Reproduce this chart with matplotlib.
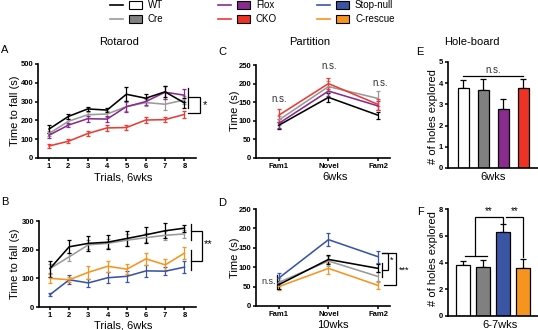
import matplotlib
matplotlib.use("Agg")
import matplotlib.pyplot as plt
from matplotlib.lines import Line2D
from matplotlib.patches import Rectangle

plt.rcParams['font.family'] = ['Liberation Sans', 'DejaVu Sans']

W, H = 538, 330

# ---------------- data ----------------
trials = [1, 2, 3, 4, 5, 6, 7, 8]

A_wt = [154, 221, 261, 255, 339, 318, 352, 293]
A_wt_err = [20, 12, 10, 10, 38, 22, 30, 25]
A_cre = [130, 195, 230, 234, 273, 295, 286, 309]
A_cre_err = [12, 12, 15, 15, 25, 20, 30, 20]
A_flox = [121, 175, 209, 207, 273, 300, 350, 334]
A_flox_err = [12, 12, 15, 15, 30, 20, 35, 35]
A_cko = [64, 89, 130, 160, 162, 202, 204, 232]
A_cko_err = [10, 10, 15, 15, 15, 15, 15, 20]

B_wt = [134, 210, 222, 226, 239, 252, 266, 275]
B_wt_err = [28, 22, 25, 25, 27, 27, 27, 12]
B_cre = [134, 175, 217, 222, 233, 242, 250, 255]
B_cre_err = [15, 15, 15, 15, 20, 15, 15, 15]
B_resc = [100, 95, 121, 142, 132, 168, 147, 188]
B_resc_err = [15, 8, 22, 20, 18, 20, 20, 22]
B_null = [43, 95, 84, 102, 107, 126, 125, 139]
B_null_err = [5, 15, 15, 20, 20, 20, 15, 20]

phases = ['Fam1', 'Novel', 'Fam2']
C_wt = [88, 163, 115]
C_wt_err = [10, 12, 10]
C_cre = [102, 192, 160]
C_cre_err = [12, 15, 20]
C_flox = [93, 180, 140]
C_flox_err = [12, 12, 12]
C_cko = [115, 200, 144]
C_cko_err = [18, 15, 15]

D_wt = [55, 120, 97]
D_wt_err = [10, 12, 10]
D_cre = [61, 116, 76]
D_cre_err = [10, 12, 12]
D_null = [72, 171, 127]
D_null_err = [13, 17, 15]
D_resc = [50, 97, 53]
D_resc_err = [8, 14, 10]

E_groups = ['WT', 'Cre', 'Flox', 'CKO']
E_vals = [3.78, 3.68, 2.8, 3.78]
E_err = [0.35, 0.5, 0.45, 0.42]

F_groups = ['WT', 'Cre', 'Stop-null', 'C-rescue']
F_vals = [3.85, 3.7, 6.27, 3.57]
F_err = [0.28, 0.5, 0.6, 0.7]

# ---------------- styles ----------------
LINE = {'WT': 'black', 'Cre': '#9a9a9a', 'Flox': '#8b2b8f', 'CKO': '#ee3b33',
        'Stop-null': '#3a55a4', 'C-rescue': '#f7941d'}
FILL = {'WT': 'white', 'Cre': '#808080', 'Flox': '#8b2b8f', 'CKO': '#ee3224',
        'Stop-null': '#3a55a4', 'C-rescue': '#f7941d'}

fig = plt.figure(figsize=(W / 100, H / 100), dpi=100)


def fx(px):
    return px / W


def fy(py):
    return 1 - py / H


def add_axes_px(left, top, right, bottom):
    return fig.add_axes([fx(left), fy(bottom), (right - left) / W, (bottom - top) / H])


def style(ax):
    for s in ['top', 'right']:
        ax.spines[s].set_visible(False)
    for s in ['left', 'bottom']:
        ax.spines[s].set_linewidth(1.2)
    ax.tick_params(axis='both', length=2.2, width=1.1, pad=1.2, labelsize=5.5)
    for lab in ax.get_xticklabels() + ax.get_yticklabels():
        lab.set_fontweight('bold')


def line_err(ax, x, y, e, key):
    ax.errorbar(x, y, yerr=e, color=LINE[key], lw=1.15, elinewidth=0.9,
                capsize=1.6, capthick=0.9, zorder=3)


def bracket(ax, pts, **kw):
    xs = [p[0] for p in pts]
    ys = [p[1] for p in pts]
    ax.plot(xs, ys, color='black', lw=0.9, clip_on=False, solid_joinstyle='miter', **kw)


# ---------------- Panel A ----------------
axA = add_axes_px(38, 64, 196, 158)
for y, e, k in [(A_cko, A_cko_err, 'CKO'), (A_cre, A_cre_err, 'Cre'),
                (A_flox, A_flox_err, 'Flox'), (A_wt, A_wt_err, 'WT')]:
    line_err(axA, trials, y, e, k)
axA.set_xlim(0.43, 8.6)
axA.set_ylim(0, 500)
axA.set_xticks(trials)
axA.set_yticks([0, 100, 200, 300, 400, 500])
style(axA)
bracket(axA, [(8.2, 372), (8.2, 266)])
bracket(axA, [(8.2, 324), (8.82, 324), (8.82, 239), (8.2, 239)])
axA.text(9.05, 282, '*', fontsize=8, ha='center', va='center', clip_on=False)

# ---------------- Panel B ----------------
axB = add_axes_px(39, 221, 196, 307)
for y, e, k in [(B_null, B_null_err, 'Stop-null'), (B_resc, B_resc_err, 'C-rescue'),
                (B_cre, B_cre_err, 'Cre'), (B_wt, B_wt_err, 'WT')]:
    line_err(axB, trials, y, e, k)
axB.set_xlim(0.43, 8.6)
axB.set_ylim(0, 300)
axB.set_xticks(trials)
axB.set_yticks([0, 100, 200, 300])
style(axB)
bracket(axB, [(8.36, 290), (8.36, 234)])
bracket(axB, [(8.36, 199), (8.36, 129)])
bracket(axB, [(8.36, 265), (8.93, 265), (8.93, 160), (8.36, 160)])
axB.text(9.25, 218, '**', fontsize=8, ha='center', va='center', clip_on=False)

# ---------------- Panel C ----------------
xp = [0, 1, 2]
axC = add_axes_px(256, 65, 390, 158)
for y, e, k in [(C_wt, C_wt_err, 'WT'), (C_flox, C_flox_err, 'Flox'),
                (C_cre, C_cre_err, 'Cre'), (C_cko, C_cko_err, 'CKO')]:
    line_err(axC, xp, y, e, k)
axC.set_xlim(-0.46, 2.24)
axC.set_ylim(0, 250)
axC.set_xticks(xp)
axC.set_xticklabels(phases)
axC.set_yticks([0, 50, 100, 150, 200, 250])
style(axC)
axC.text(0, 159, 'n.s.', fontsize=7, ha='center', va='center', color='#333333')
axC.text(1.02, 246, 'n.s.', fontsize=7, ha='center', va='center', color='#333333', clip_on=False)
axC.text(2.05, 202, 'n.s.', fontsize=7, ha='center', va='center', color='#333333', clip_on=False)

# ---------------- Panel D ----------------
axD = add_axes_px(256, 209, 390, 306)
for y, e, k in [(D_resc, D_resc_err, 'C-rescue'), (D_cre, D_cre_err, 'Cre'),
                (D_wt, D_wt_err, 'WT'), (D_null, D_null_err, 'Stop-null')]:
    line_err(axD, xp, y, e, k)
axD.set_xlim(-0.46, 2.24)
axD.set_ylim(0, 250)
axD.set_xticks(xp)
axD.set_xticklabels(phases)
axD.set_yticks([0, 50, 100, 150, 200, 250])
style(axD)
bracket(axD, [(-0.03, 80), (-0.03, 44)])
axD.text(-0.2, 62, 'n.s.', fontsize=6.5, ha='center', va='center', color='#333333')
bracket(axD, [(2.07, 111), (2.07, 75)])
bracket(axD, [(2.07, 137), (2.2, 137), (2.2, 93), (2.07, 93)])
bracket(axD, [(2.07, 137), (2.36, 137), (2.36, 54), (2.12, 54)])
axD.text(2.27, 119, '*', fontsize=6.5, ha='center', va='center', clip_on=False)
axD.text(2.53, 93, '***', fontsize=6.5, ha='center', va='center', clip_on=False)

# ---------------- Panel E ----------------
xb = [0, 1, 2, 3]
axE = add_axes_px(448, 62, 538, 168)
axE.bar(xb, E_vals, width=0.55, color=[FILL[g] for g in E_groups],
        edgecolor='black', linewidth=0.9, zorder=2)
axE.errorbar(xb, E_vals, yerr=[[0] * 4, E_err], fmt='none', ecolor='black',
             elinewidth=0.9, capsize=2.2, capthick=0.9, zorder=1)
axE.set_xlim(-0.75, 3.75)
axE.set_ylim(0, 5)
axE.set_xticks([])
axE.set_yticks([0, 1, 2, 3, 4, 5])
style(axE)
axE.plot([0, 3], [4.34, 4.34], color='black', lw=0.9)
axE.text(1.5, 4.38, 'n.s.', fontsize=7, ha='center', va='bottom', color='#333333')

# ---------------- Panel F ----------------
axF = add_axes_px(448, 209, 538, 316)
axF.bar(xb, F_vals, width=0.74, color=[FILL[g] for g in F_groups],
        edgecolor='black', linewidth=0.9, zorder=2)
axF.errorbar(xb, F_vals, yerr=[[0] * 4, F_err], fmt='none', ecolor='black',
             elinewidth=0.9, capsize=2.2, capthick=0.9, zorder=1)
axF.set_xlim(-0.75, 3.75)
axF.set_ylim(0, 8)
axF.set_xticks([])
axF.set_yticks([0, 2, 4, 6, 8])
style(axF)
bracket(axF, [(0.1, 4.49), (1.2, 4.49)])
bracket(axF, [(0.6, 4.49), (0.6, 7.42), (2.0, 7.42), (2.0, 6.95)])
bracket(axF, [(2.15, 7.42), (3.0, 7.42), (3.0, 4.4)])
axF.text(1.3, 7.45, '**', fontsize=7, ha='center', va='bottom')
axF.text(2.6, 7.45, '**', fontsize=7, ha='center', va='bottom')

# ---------------- text: titles, labels, panel letters ----------------
def ftext(px, py, s, **kw):
    fig.text(fx(px), fy(py), s, **kw)

ftext(119, 42, 'Rotarod', fontsize=8, ha='center', va='center')
ftext(310, 42, 'Partition', fontsize=8, ha='center', va='center')
ftext(472, 42, 'Hole-board', fontsize=8, ha='center', va='center')

ftext(123, 177, 'Trials, 6wks', fontsize=8, ha='center', va='center')
ftext(123, 325, 'Trials, 6wks', fontsize=8, ha='center', va='center')
ftext(335, 177, '6wks', fontsize=8, ha='center', va='center')
ftext(333, 325, '10wks', fontsize=8, ha='center', va='center')
ftext(493, 177, '6wks', fontsize=8, ha='center', va='center')
ftext(500, 325, '6-7wks', fontsize=8, ha='center', va='center')

ftext(15, 111, 'Time to fall (s)', fontsize=8, rotation=90, ha='center', va='center')
ftext(15, 264, 'Time to fall (s)', fontsize=8, rotation=90, ha='center', va='center')
ftext(235, 111, 'Time (s)', fontsize=8, rotation=90, ha='center', va='center')
ftext(235, 258, 'Time (s)', fontsize=8, rotation=90, ha='center', va='center')
ftext(433, 117, '# of holes explored', fontsize=8, rotation=90, ha='center', va='center')
ftext(433, 259, '# of holes explored', fontsize=8, rotation=90, ha='center', va='center')

for px, py, s in [(5, 50, 'A'), (5, 202, 'B'), (222, 52, 'C'), (222, 203, 'D'),
                  (420, 52, 'E'), (420, 212, 'F')]:
    ftext(px, py, s, fontsize=8, ha='center', va='center')

# ---------------- legend ----------------
legend_items = [('WT', 110, 5), ('Cre', 110, 19), ('Flox', 218, 5),
                ('CKO', 218, 19), ('Stop-null', 317, 5), ('C-rescue', 317, 19)]
for name, px, py in legend_items:
    fig.add_artist(Line2D([fx(px), fx(px + 13)], [fy(py), fy(py)],
                          color=LINE[name], lw=1.2, transform=fig.transFigure))
    fig.add_artist(Rectangle((fx(px + 19), fy(py + 4)), 13 / W, 8 / H,
                             facecolor=FILL[name], edgecolor='black', lw=0.8,
                             transform=fig.transFigure))
    ftext(px + 38, py, name, fontsize=7, ha='left', va='center')

fig.savefig('out.png', dpi=100)
